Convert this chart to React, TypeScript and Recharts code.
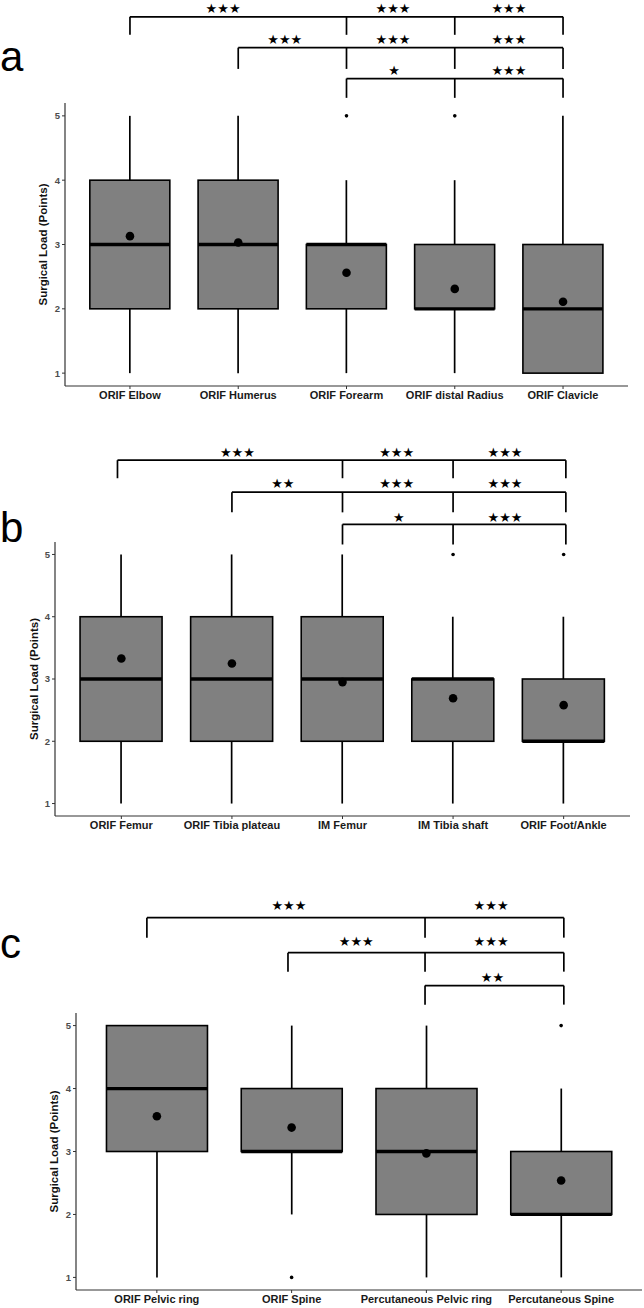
import React from "react";
import {
  Bar,
  ComposedChart,
  ReferenceDot,
  ReferenceLine,
  Scatter,
  XAxis,
  YAxis,
} from "recharts";

// panel a
const catsA = ["ORIF Elbow", "ORIF Humerus", "ORIF Forearm", "ORIF distal Radius", "ORIF Clavicle"];
const lowA = [1, 1, 1, 1, 1];
const q1A = [2, 2, 2, 2, 1];
const medA = [3, 3, 3, 2, 2];
const q3A = [4, 4, 3, 3, 3];
const highA = [5, 5, 4, 4, 5];
const meanA = [3.13, 3.03, 2.56, 2.31, 2.11];
const outA = [[], [], [5], [5], []];

// panel b
const catsB = ["ORIF Femur", "ORIF Tibia plateau", "IM Femur", "IM Tibia shaft", "ORIF Foot/Ankle"];
const lowB = [1, 1, 1, 1, 1];
const q1B = [2, 2, 2, 2, 2];
const medB = [3, 3, 3, 3, 2];
const q3B = [4, 4, 4, 3, 3];
const highB = [5, 5, 5, 4, 4];
const meanB = [3.33, 3.25, 2.95, 2.69, 2.58];
const outB = [[], [], [], [5], [5]];

// panel c
const catsC = ["ORIF Pelvic ring", "ORIF Spine", "Percutaneous Pelvic ring", "Percutaneous Spine"];
const lowC = [1, 2, 1, 1];
const q1C = [3, 3, 2, 2];
const medC = [4, 3, 3, 2];
const q3C = [5, 4, 4, 3];
const highC = [5, 5, 5, 4];
const meanC = [3.56, 3.38, 2.97, 2.54];
const outC = [[], [1], [], [5]];

const S3 = "★★★";
const S2 = "★★";
const S1 = "★";

// significance brackets (x in category units, y in points)
const bracketsA = [
  { ticks: [1, 3, 4, 5], y: 6.54, foot: 6.26, stars: [S3, S3, S3], starX: [1.86, 3.43, 4.5], starY: 6.665 },
  { ticks: [2, 3, 4, 5], y: 6.06, foot: 5.73, stars: [S3, S3, S3], starX: [2.43, 3.43, 4.5], starY: 6.19 },
  { ticks: [3, 4, 5], y: 5.58, foot: 5.28, stars: [S1, S3], starX: [3.44, 4.5], starY: 5.71 },
];
const bracketsB = [
  { ticks: [0.965, 3, 4, 5.02], y: 6.514, foot: 6.224, stars: [S3, S3, S3], starX: [2.05, 3.49, 4.47], starY: 6.64 },
  { ticks: [2, 3, 4, 5.02], y: 6.0, foot: 5.676, stars: [S2, S3, S3], starX: [2.46, 3.49, 4.47], starY: 6.14 },
  { ticks: [3, 4, 5.02], y: 5.483, foot: 5.16, stars: [S1, S3], starX: [3.51, 4.47], starY: 5.6 },
];
const bracketsC = [
  { ticks: [0.926, 2.99, 4.02], y: 6.714, foot: 6.397, stars: [S3, S3], starX: [1.98, 3.48], starY: 6.905 },
  { ticks: [1.973, 2.99, 4.02], y: 6.159, foot: 5.857, stars: [S3, S3], starX: [2.48, 3.48], starY: 6.333 },
  { ticks: [2.99, 4.02], y: 5.635, foot: 5.333, stars: [S2], starX: [3.49], starY: 5.762 },
];

const yTicks = [1, 2, 3, 4, 5];
const FONT = "'Liberation Sans', Arial, sans-serif";

type Bracket = (typeof bracketsA)[number];

function BoxShape(props: any) {
  const { x, y, width, height, payload } = props;
  if (x == null || !payload) return null;
  const top = Math.min(y, y + height);
  const h = Math.abs(height);
  const { low, q1, med, q3, high } = payload;
  const px = (v: number) => (high === low ? top : top + (h * (high - v)) / (high - low));
  const cx = x + width / 2;
  return (
    <g>
      {high > q3 && (
        <line x1={cx} x2={cx} y1={px(high)} y2={px(q3)} stroke="#000" strokeWidth={1.7} />
      )}
      {q1 > low && (
        <line x1={cx} x2={cx} y1={px(q1)} y2={px(low)} stroke="#000" strokeWidth={1.7} />
      )}
      <rect
        x={x}
        y={px(q3)}
        width={width}
        height={px(q1) - px(q3)}
        fill="#808080"
        stroke="#000"
        strokeWidth={1.6}
      />
      <line x1={x} x2={x + width} y1={px(med)} y2={px(med)} stroke="#000" strokeWidth={3.3} />
    </g>
  );
}

function Panel({
  cats, low, q1, med, q3, high, mean, outliers, brackets,
  top, height, margin, barSize, titleOffset,
}: {
  cats: string[]; low: number[]; q1: number[]; med: number[]; q3: number[]; high: number[];
  mean: number[]; outliers: number[][]; brackets: Bracket[];
  top: number; height: number;
  margin: { top: number; right: number; bottom: number; left: number };
  barSize: number; titleOffset: number;
}) {
  const rows = cats.map((name, i) => ({
    x: i + 1, name, low: low[i], q1: q1[i], med: med[i], q3: q3[i], high: high[i],
  }));
  const meanPts = mean.map((m, i) => ({ x: i + 1, y: m }));
  const outPts = outliers.flatMap((vals, i) => vals.map((v) => ({ x: i + 1, y: v })));
  const n = cats.length;

  return (
    <div style={{ position: "absolute", left: 0, top }}>
      <ComposedChart width={644} height={height} data={rows} margin={margin}>
        <XAxis
          type="number"
          dataKey="x"
          domain={[0.4, n + 0.6]}
          ticks={cats.map((_, i) => i + 1)}
          tickFormatter={(v) => cats[Number(v) - 1] ?? ""}
          allowDataOverflow
          interval={0}
          height={margin.bottom === 0 ? 18 : 24}
          tickSize={3}
          tickMargin={2}
          axisLine={{ stroke: "#333", strokeWidth: 1.2 }}
          tickLine={{ stroke: "#333" }}
          tick={{ fontSize: 11, fontWeight: 700, fill: "#1a1a1a", fontFamily: FONT }}
        />
        <YAxis
          type="number"
          domain={[0.8, 5.2]}
          ticks={yTicks}
          allowDataOverflow
          width={45}
          tickSize={3}
          tickMargin={2}
          axisLine={{ stroke: "#333", strokeWidth: 1.2 }}
          tickLine={{ stroke: "#333" }}
          tick={{ fontSize: 9.5, fontWeight: 700, fill: "#4d4d4d", fontFamily: FONT }}
          label={{
            value: "Surgical Load (Points)",
            angle: -90,
            position: "insideLeft",
            offset: titleOffset,
            style: { textAnchor: "middle", fontSize: 11.5, fontWeight: 700, fill: "#111", fontFamily: FONT },
          }}
        />
        <Bar
          dataKey={(d: any) => [d.low, d.high]}
          barSize={barSize}
          shape={BoxShape}
          isAnimationActive={false}
        />
        <Scatter
          data={outPts}
          dataKey="y"
          isAnimationActive={false}
          shape={(p: any) => <circle cx={p.cx} cy={p.cy} r={1.8} fill="#000" />}
        />
        <Scatter
          data={meanPts}
          dataKey="y"
          isAnimationActive={false}
          shape={(p: any) => <circle cx={p.cx} cy={p.cy} r={4.3} fill="#000" />}
        />
        {brackets.map((b, bi) => (
          <React.Fragment key={bi}>
            <ReferenceLine
              segment={[{ x: b.ticks[0], y: b.y }, { x: b.ticks[b.ticks.length - 1], y: b.y }]}
              stroke="#000"
              strokeWidth={1.7}
              ifOverflow="visible"
            />
            {b.ticks.map((t, ti) => (
              <ReferenceLine
                key={ti}
                segment={[{ x: t, y: b.y }, { x: t, y: b.foot }]}
                stroke="#000"
                strokeWidth={1.7}
                ifOverflow="visible"
              />
            ))}
            {b.stars.map((s, si) => (
              <ReferenceDot
                key={"s" + si}
                x={b.starX[si]}
                y={b.starY}
                r={0}
                fill="none"
                stroke="none"
                ifOverflow="visible"
                label={{
                  value: s,
                  position: "center",
                  fontSize: 13,
                  fill: "#000",
                  fontFamily: "'DejaVu Sans', sans-serif",
                }}
              />
            ))}
          </React.Fragment>
        ))}
      </ComposedChart>
    </div>
  );
}

const panelLabel: React.CSSProperties = {
  position: "absolute",
  left: 0,
  fontFamily: FONT,
  fontSize: 42,
  lineHeight: "42px",
  color: "#000",
};

export default function App() {
  return (
    <div style={{ position: "absolute", left: 0, top: 0, width: 644, height: 1308, background: "#fff", overflow: "hidden" }}>
      <Panel
        cats={catsA} low={lowA} q1={q1A} med={medA} q3={q3A} high={highA}
        mean={meanA} outliers={outA} brackets={bracketsA}
        top={0} height={420}
        margin={{ top: 103, right: 16, bottom: 10, left: 20 }}
        barSize={80} titleOffset={23}
      />
      <Panel
        cats={catsB} low={lowB} q1={q1B} med={medB} q3={q3B} high={highB}
        mean={meanB} outliers={outB} brackets={bracketsB}
        top={430} height={420}
        margin={{ top: 112, right: 14, bottom: 10, left: 10 }}
        barSize={82} titleOffset={24}
      />
      <Panel
        cats={catsC} low={lowC} q1={q1C} med={medC} q3={q3C} high={highC}
        mean={meanC} outliers={outC} brackets={bracketsC}
        top={880} height={428}
        margin={{ top: 133, right: 2, bottom: 0, left: 31 }}
        barSize={101} titleOffset={23}
      />
      <div style={{ ...panelLabel, top: 36 }}>a</div>
      <div style={{ ...panelLabel, top: 507 }}>b</div>
      <div style={{ ...panelLabel, top: 923 }}>c</div>
    </div>
  );
}
